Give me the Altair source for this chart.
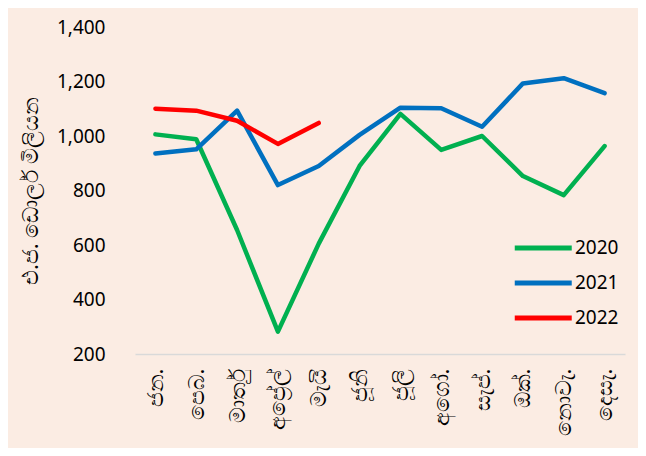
import altair as alt
import pandas as pd

months = ["ජන.", "පෙබ.", "මාර්තු", "අප්‍රේල්", "මැයි", "ජූනි", "ජූලි", "අගෝ.", "සැප්.", "ඔක්.", "නොවැ.", "දෙසැ."]
v2020 = [1006, 988, 655, 282, 605, 890, 1081, 949, 1000, 853, 783, 963]
v2021 = [936, 951, 1093, 820, 890, 1004, 1104, 1102, 1034, 1193, 1212, 1157]
v2022 = [1100, 1093, 1056, 971, 1048]
years = ["2020", "2021", "2022"]
colors = ["#00B050", "#0070C0", "#FF0000"]

rows = []
for yr, vals in zip(years, [v2020, v2021, v2022]):
    for m, v in zip(months, vals):
        rows.append({"month": m, "value": v, "year": yr})
df = pd.DataFrame(rows)

FONT = "Noto Sans"

chart = alt.Chart(df).mark_line(strokeWidth=4.5, strokeCap="round", strokeJoin="round").encode(
    x=alt.X("month:N", sort=months, title=None,
            scale=alt.Scale(paddingInner=0, paddingOuter=0.5),
            axis=alt.Axis(labelAngle=-90, labelAlign="right", labelBaseline="middle",
                          labelPadding=14, ticks=False, domainColor="#D9D9D9",
                          domainWidth=1.5, labelFontSize=22, labelColor="#000000",
                          labelFont=FONT)),
    y=alt.Y("value:Q", title="එ.ජ. ඩොලර් මිලියන",
            scale=alt.Scale(domain=[200, 1400], nice=False, zero=False),
            axis=alt.Axis(values=[200, 400, 600, 800, 1000, 1200, 1400], format=",.0f",
                          grid=False, domain=False, ticks=False, labelPadding=30,
                          labelFontSize=19, labelColor="#000000", labelFont=FONT,
                          titleFontSize=22, titleFontWeight="normal", titleColor="#000000",
                          titleFont=FONT, titlePadding=14)),
    color=alt.Color("year:N", scale=alt.Scale(domain=years, range=colors),
                    legend=alt.Legend(title=None, orient="none", legendX=377, legendY=204,
                                      symbolType="M-1,0H3", symbolSize=812, symbolStrokeWidth=5,
                                      symbolFillColor="transparent",
                                      labelFontSize=19, labelFont=FONT, labelColor="#000000",
                                      rowPadding=8, symbolOffset=0, labelOffset=29)),
).properties(
    width=490, height=327,
    autosize=alt.AutoSizeParams(type="none"),
    padding={"left": 127, "top": 19, "right": 13, "bottom": 94},
    background="#FBECE3",
).configure_view(stroke=None)

chart.save("out.html", embed_options={"renderer": "svg", "actions": False})
